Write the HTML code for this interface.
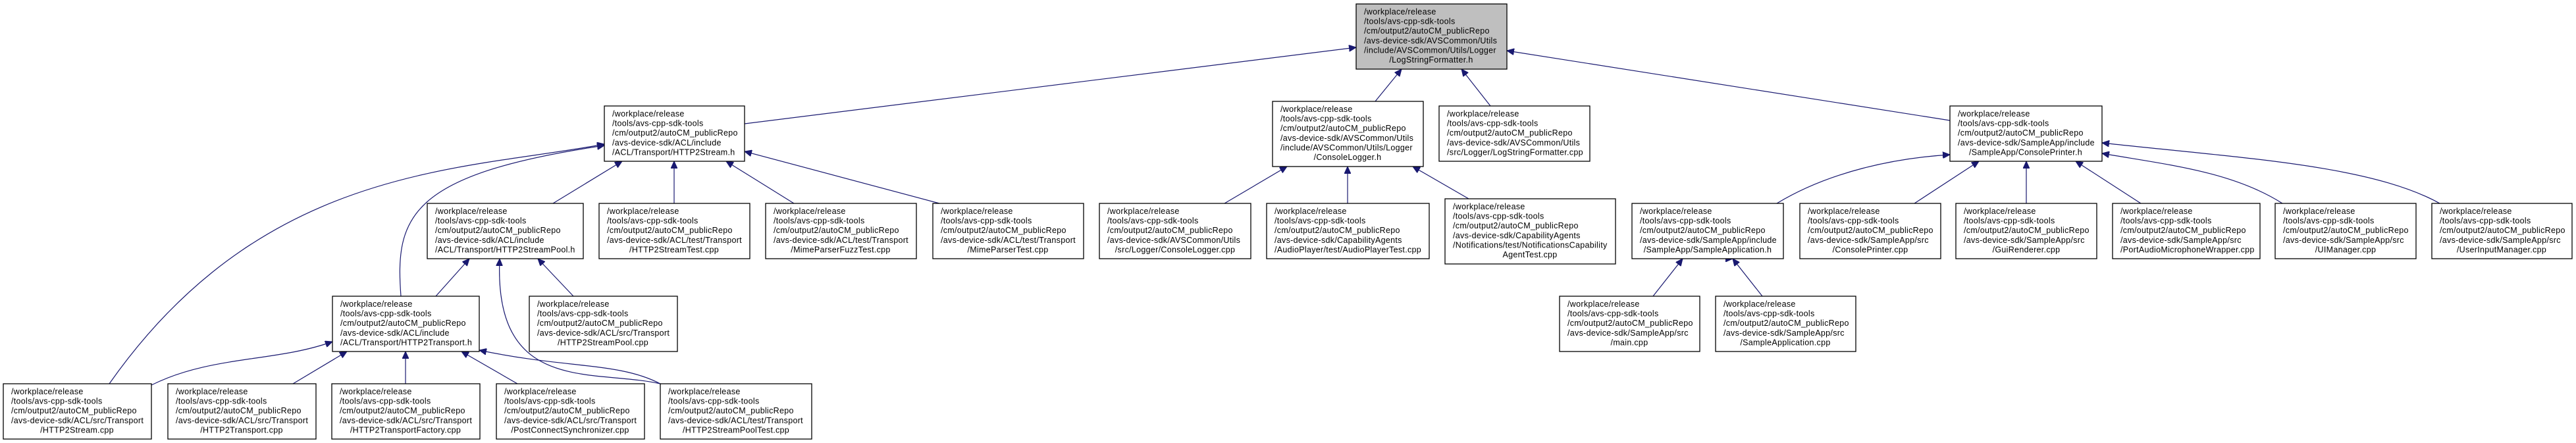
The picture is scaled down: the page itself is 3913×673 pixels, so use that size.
<!DOCTYPE html>
<html><head><meta charset="utf-8"><style>
html,body{margin:0;padding:0;background:#fff;}
svg{display:block;}
text{font-family:"Liberation Sans",sans-serif;font-size:12.5px;letter-spacing:0.3px;fill:#000;}
.b{fill:#fff;stroke:#000;stroke-width:1.3;}
.r{fill:#bfbfbf;stroke:#000;stroke-width:1.3;}
.e{fill:none;stroke:#191970;stroke-width:1.2;marker-end:url(#a);}
</style></head><body>
<svg width="3913" height="673" viewBox="0 0 3913 673" xmlns="http://www.w3.org/2000/svg">
<defs><marker id="a" markerWidth="12" markerHeight="10" refX="11" refY="5" orient="auto" markerUnits="userSpaceOnUse"><path d="M0,0 L11,5 L0,10 Z" fill="#191970" stroke="#191970"/></marker></defs>

<!-- edges -->
<path class="e" d="M1131,188 L2060,72"/>
<path class="e" d="M2962,183 L2289,77"/>
<path class="e" d="M2089,154 L2129,105"/>
<path class="e" d="M2264,161 L2220,105"/>
<path class="e" d="M840,309 L945,245"/>
<path class="e" d="M1024,309 L1024,245"/>
<path class="e" d="M1206,309 L1103,245"/>
<path class="e" d="M1427,309 L1131,230"/>
<path class="e" d="M166,583 C400,250 700,260 918,219"/>
<path class="e" d="M609,450 C600,330 620,265 918,221"/>
<path class="e" d="M662,450 L713,393"/>
<path class="e" d="M871,450 L817,393"/>
<path class="e" d="M1003,583 C900,560 750,600 759,393"/>
<path class="e" d="M1003,583 C940,550 860,560 728,532"/>
<path class="e" d="M230,585 C320,540 420,550 505,519"/>
<path class="e" d="M445,583 L527,534"/>
<path class="e" d="M616,583 L616,534"/>
<path class="e" d="M786,583 L701,534"/>
<path class="e" d="M1860,309 L1955,253"/>
<path class="e" d="M2047,309 L2047,253"/>
<path class="e" d="M2231,302 L2146,253"/>
<path class="e" d="M2511,450 L2556,393"/>
<path class="e" d="M2632,393 L2632,393"/>
<path class="e" d="M2677,450 L2632,393"/>
<path class="e" d="M2699,309 C2780,260 2880,240 2962,235"/>
<path class="e" d="M2908,309 L3006,245"/>
<path class="e" d="M3078,309 L3078,245"/>
<path class="e" d="M3252,309 L3153,245"/>
<path class="e" d="M3467,309 C3390,260 3290,250 3193,233"/>
<path class="e" d="M3706,309 C3600,250 3400,240 3193,217"/>

<!-- nodes -->
<rect class="r" x="2060" y="6" width="229" height="99"/>
<text x="2072" y="22">/workplace/release</text><text x="2072" y="36.6">/tools/avs-cpp-sdk-tools</text><text x="2072" y="51.2">/cm/output2/autoCM_publicRepo</text><text x="2072" y="65.8">/avs-device-sdk/AVSCommon/Utils</text><text x="2072" y="80.4">/include/AVSCommon/Utils/Logger</text><text x="2174" y="95" text-anchor="middle">/LogStringFormatter.h</text>

<rect class="b" x="918" y="161" width="213" height="84"/>
<text x="930" y="177">/workplace/release</text><text x="930" y="191.6">/tools/avs-cpp-sdk-tools</text><text x="930" y="206.2">/cm/output2/autoCM_publicRepo</text><text x="930" y="220.8">/avs-device-sdk/ACL/include</text><text x="930" y="235.4">/ACL/Transport/HTTP2Stream.h</text>

<rect class="b" x="1933" y="154" width="229" height="99"/>
<text x="1945" y="170">/workplace/release</text><text x="1945" y="184.6">/tools/avs-cpp-sdk-tools</text><text x="1945" y="199.2">/cm/output2/autoCM_publicRepo</text><text x="1945" y="213.8">/avs-device-sdk/AVSCommon/Utils</text><text x="1945" y="228.4">/include/AVSCommon/Utils/Logger</text><text x="2047" y="243" text-anchor="middle">/ConsoleLogger.h</text>

<rect class="b" x="2186" y="161" width="229" height="84"/>
<text x="2198" y="177">/workplace/release</text><text x="2198" y="191.6">/tools/avs-cpp-sdk-tools</text><text x="2198" y="206.2">/cm/output2/autoCM_publicRepo</text><text x="2198" y="220.8">/avs-device-sdk/AVSCommon/Utils</text><text x="2198" y="235.4">/src/Logger/LogStringFormatter.cpp</text>

<rect class="b" x="2962" y="161" width="231" height="84"/>
<text x="2974" y="177">/workplace/release</text><text x="2974" y="191.6">/tools/avs-cpp-sdk-tools</text><text x="2974" y="206.2">/cm/output2/autoCM_publicRepo</text><text x="2974" y="220.8">/avs-device-sdk/SampleApp/include</text><text x="3077" y="235.4" text-anchor="middle">/SampleApp/ConsolePrinter.h</text>

<!-- row 2 -->
<rect class="b" x="649" y="309" width="237" height="84"/>
<text x="661" y="325">/workplace/release</text><text x="661" y="339.6">/tools/avs-cpp-sdk-tools</text><text x="661" y="354.2">/cm/output2/autoCM_publicRepo</text><text x="661" y="368.8">/avs-device-sdk/ACL/include</text><text x="661" y="383.4">/ACL/Transport/HTTP2StreamPool.h</text>

<rect class="b" x="910" y="309" width="229" height="84"/>
<text x="922" y="325">/workplace/release</text><text x="922" y="339.6">/tools/avs-cpp-sdk-tools</text><text x="922" y="354.2">/cm/output2/autoCM_publicRepo</text><text x="922" y="368.8">/avs-device-sdk/ACL/test/Transport</text><text x="1024" y="383.4" text-anchor="middle">/HTTP2StreamTest.cpp</text>

<rect class="b" x="1163" y="309" width="229" height="84"/>
<text x="1175" y="325">/workplace/release</text><text x="1175" y="339.6">/tools/avs-cpp-sdk-tools</text><text x="1175" y="354.2">/cm/output2/autoCM_publicRepo</text><text x="1175" y="368.8">/avs-device-sdk/ACL/test/Transport</text><text x="1277" y="383.4" text-anchor="middle">/MimeParserFuzzTest.cpp</text>

<rect class="b" x="1417" y="309" width="229" height="84"/>
<text x="1429" y="325">/workplace/release</text><text x="1429" y="339.6">/tools/avs-cpp-sdk-tools</text><text x="1429" y="354.2">/cm/output2/autoCM_publicRepo</text><text x="1429" y="368.8">/avs-device-sdk/ACL/test/Transport</text><text x="1531" y="383.4" text-anchor="middle">/MimeParserTest.cpp</text>

<rect class="b" x="1670" y="309" width="230" height="84"/>
<text x="1682" y="325">/workplace/release</text><text x="1682" y="339.6">/tools/avs-cpp-sdk-tools</text><text x="1682" y="354.2">/cm/output2/autoCM_publicRepo</text><text x="1682" y="368.8">/avs-device-sdk/AVSCommon/Utils</text><text x="1785" y="383.4" text-anchor="middle">/src/Logger/ConsoleLogger.cpp</text>

<rect class="b" x="1924" y="309" width="247" height="84"/>
<text x="1936" y="325">/workplace/release</text><text x="1936" y="339.6">/tools/avs-cpp-sdk-tools</text><text x="1936" y="354.2">/cm/output2/autoCM_publicRepo</text><text x="1936" y="368.8">/avs-device-sdk/CapabilityAgents</text><text x="1936" y="383.4">/AudioPlayer/test/AudioPlayerTest.cpp</text>

<rect class="b" x="2195" y="302" width="259" height="99"/>
<text x="2207" y="318">/workplace/release</text><text x="2207" y="332.6">/tools/avs-cpp-sdk-tools</text><text x="2207" y="347.2">/cm/output2/autoCM_publicRepo</text><text x="2207" y="361.8">/avs-device-sdk/CapabilityAgents</text><text x="2207" y="376.4">/Notifications/test/NotificationsCapability</text><text x="2324" y="391" text-anchor="middle">AgentTest.cpp</text>

<rect class="b" x="2479" y="309" width="230" height="84"/>
<text x="2491" y="325">/workplace/release</text><text x="2491" y="339.6">/tools/avs-cpp-sdk-tools</text><text x="2491" y="354.2">/cm/output2/autoCM_publicRepo</text><text x="2491" y="368.8">/avs-device-sdk/SampleApp/include</text><text x="2594" y="383.4" text-anchor="middle">/SampleApp/SampleApplication.h</text>

<rect class="b" x="2734" y="309" width="214" height="84"/>
<text x="2746" y="325">/workplace/release</text><text x="2746" y="339.6">/tools/avs-cpp-sdk-tools</text><text x="2746" y="354.2">/cm/output2/autoCM_publicRepo</text><text x="2746" y="368.8">/avs-device-sdk/SampleApp/src</text><text x="2841" y="383.4" text-anchor="middle">/ConsolePrinter.cpp</text>

<rect class="b" x="2971" y="309" width="214" height="84"/>
<text x="2983" y="325">/workplace/release</text><text x="2983" y="339.6">/tools/avs-cpp-sdk-tools</text><text x="2983" y="354.2">/cm/output2/autoCM_publicRepo</text><text x="2983" y="368.8">/avs-device-sdk/SampleApp/src</text><text x="3078" y="383.4" text-anchor="middle">/GuiRenderer.cpp</text>

<rect class="b" x="3209" y="309" width="224" height="84"/>
<text x="3221" y="325">/workplace/release</text><text x="3221" y="339.6">/tools/avs-cpp-sdk-tools</text><text x="3221" y="354.2">/cm/output2/autoCM_publicRepo</text><text x="3221" y="368.8">/avs-device-sdk/SampleApp/src</text><text x="3221" y="383.4">/PortAudioMicrophoneWrapper.cpp</text>

<rect class="b" x="3456" y="309" width="214" height="84"/>
<text x="3468" y="325">/workplace/release</text><text x="3468" y="339.6">/tools/avs-cpp-sdk-tools</text><text x="3468" y="354.2">/cm/output2/autoCM_publicRepo</text><text x="3468" y="368.8">/avs-device-sdk/SampleApp/src</text><text x="3563" y="383.4" text-anchor="middle">/UIManager.cpp</text>

<rect class="b" x="3694" y="309" width="213" height="84"/>
<text x="3706" y="325">/workplace/release</text><text x="3706" y="339.6">/tools/avs-cpp-sdk-tools</text><text x="3706" y="354.2">/cm/output2/autoCM_publicRepo</text><text x="3706" y="368.8">/avs-device-sdk/SampleApp/src</text><text x="3800" y="383.4" text-anchor="middle">/UserInputManager.cpp</text>

<!-- row 3 -->
<rect class="b" x="505" y="450" width="223" height="84"/>
<text x="517" y="466">/workplace/release</text><text x="517" y="480.6">/tools/avs-cpp-sdk-tools</text><text x="517" y="495.2">/cm/output2/autoCM_publicRepo</text><text x="517" y="509.8">/avs-device-sdk/ACL/include</text><text x="517" y="524.4">/ACL/Transport/HTTP2Transport.h</text>

<rect class="b" x="804" y="450" width="225" height="84"/>
<text x="816" y="466">/workplace/release</text><text x="816" y="480.6">/tools/avs-cpp-sdk-tools</text><text x="816" y="495.2">/cm/output2/autoCM_publicRepo</text><text x="816" y="509.8">/avs-device-sdk/ACL/src/Transport</text><text x="916" y="524.4" text-anchor="middle">/HTTP2StreamPool.cpp</text>

<rect class="b" x="2369" y="450" width="213" height="84"/>
<text x="2381" y="466">/workplace/release</text><text x="2381" y="480.6">/tools/avs-cpp-sdk-tools</text><text x="2381" y="495.2">/cm/output2/autoCM_publicRepo</text><text x="2381" y="509.8">/avs-device-sdk/SampleApp/src</text><text x="2475" y="524.4" text-anchor="middle">/main.cpp</text>

<rect class="b" x="2606" y="450" width="213" height="84"/>
<text x="2618" y="466">/workplace/release</text><text x="2618" y="480.6">/tools/avs-cpp-sdk-tools</text><text x="2618" y="495.2">/cm/output2/autoCM_publicRepo</text><text x="2618" y="509.8">/avs-device-sdk/SampleApp/src</text><text x="2712" y="524.4" text-anchor="middle">/SampleApplication.cpp</text>

<!-- row 4 -->
<rect class="b" x="5" y="583" width="225" height="84"/>
<text x="17" y="599">/workplace/release</text><text x="17" y="613.6">/tools/avs-cpp-sdk-tools</text><text x="17" y="628.2">/cm/output2/autoCM_publicRepo</text><text x="17" y="642.8">/avs-device-sdk/ACL/src/Transport</text><text x="117" y="657.4" text-anchor="middle">/HTTP2Stream.cpp</text>

<rect class="b" x="255" y="583" width="225" height="84"/>
<text x="267" y="599">/workplace/release</text><text x="267" y="613.6">/tools/avs-cpp-sdk-tools</text><text x="267" y="628.2">/cm/output2/autoCM_publicRepo</text><text x="267" y="642.8">/avs-device-sdk/ACL/src/Transport</text><text x="367" y="657.4" text-anchor="middle">/HTTP2Transport.cpp</text>

<rect class="b" x="504" y="583" width="225" height="84"/>
<text x="516" y="599">/workplace/release</text><text x="516" y="613.6">/tools/avs-cpp-sdk-tools</text><text x="516" y="628.2">/cm/output2/autoCM_publicRepo</text><text x="516" y="642.8">/avs-device-sdk/ACL/src/Transport</text><text x="616" y="657.4" text-anchor="middle">/HTTP2TransportFactory.cpp</text>

<rect class="b" x="754" y="583" width="225" height="84"/>
<text x="766" y="599">/workplace/release</text><text x="766" y="613.6">/tools/avs-cpp-sdk-tools</text><text x="766" y="628.2">/cm/output2/autoCM_publicRepo</text><text x="766" y="642.8">/avs-device-sdk/ACL/src/Transport</text><text x="866" y="657.4" text-anchor="middle">/PostConnectSynchronizer.cpp</text>

<rect class="b" x="1003" y="583" width="230" height="84"/>
<text x="1015" y="599">/workplace/release</text><text x="1015" y="613.6">/tools/avs-cpp-sdk-tools</text><text x="1015" y="628.2">/cm/output2/autoCM_publicRepo</text><text x="1015" y="642.8">/avs-device-sdk/ACL/test/Transport</text><text x="1118" y="657.4" text-anchor="middle">/HTTP2StreamPoolTest.cpp</text>
</svg>
</body></html>
